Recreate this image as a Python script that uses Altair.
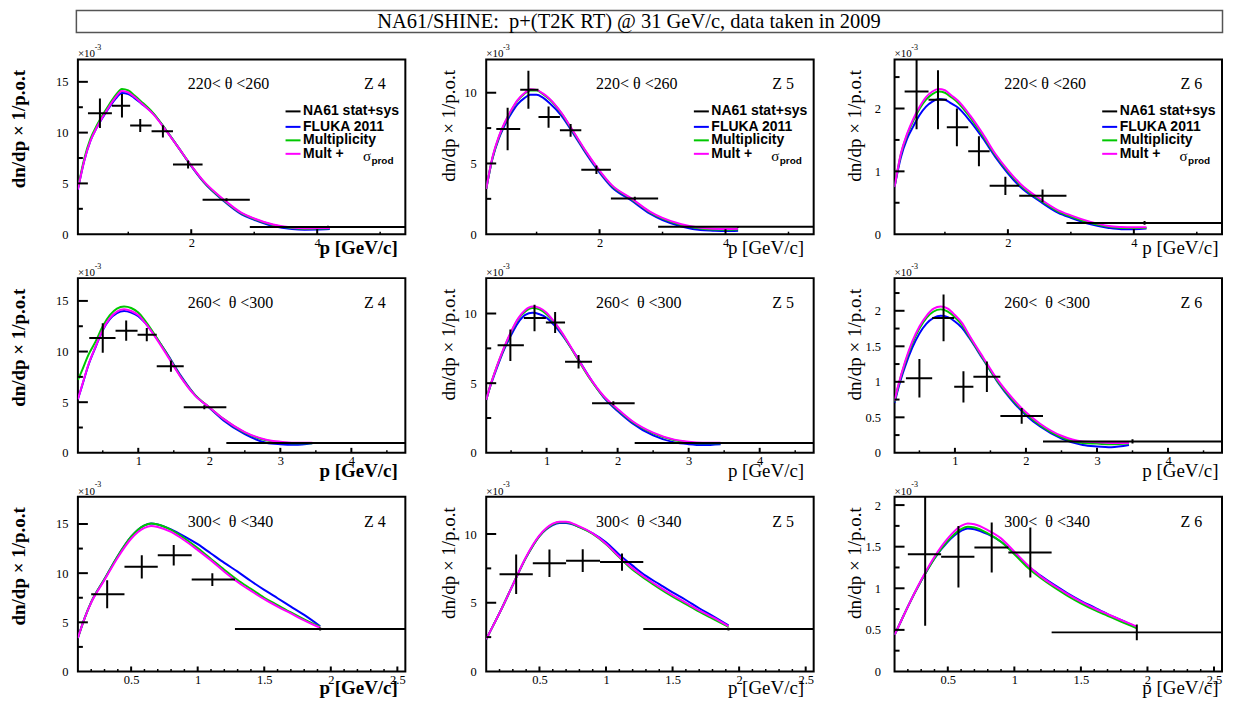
import altair as alt
import pandas as pd

SERIF = "Liberation Serif"
SANS = "Liberation Sans"

TITLE = "NA61/SHINE:\u00a0 p+(T2K RT) @ 31 GeV/c, data taken in 2009"
THETA_LABELS = ["220< θ <260", "260<\u00a0 θ <300", "300<\u00a0 θ <340"]
Z_LABELS = ["Z 4", "Z 5", "Z 6"]
MODEL_COLORS = ["#0000ff", "#00c800", "#ff00ff"]   # FLUKA 2011, Multiplicity, Mult + sigma_prod
LEGEND_LABELS = ["NA61 stat+sys", "FLUKA 2011", "Multiplicity", "Mult +"]
LEGEND_COLORS = ["#000000", "#0000ff", "#00c800", "#ff00ff"]

X_DOMAINS = [[0.2, 5.4], [0.15, 4.76], [0.1, 2.56]]
Y_TOPS = [[17.2, 12.35, 2.78], [17.25, 12.54, 2.46], [17.77, 12.71, 2.1]]
X_MAJOR = [[2, 4], [1, 2, 3, 4], [0.5, 1, 1.5, 2, 2.5]]
X_MINOR = [[1, 3, 5], [0.5, 1.5, 2.5, 3.5, 4.5],
           [0.2, 0.3, 0.4, 0.6, 0.7, 0.8, 0.9, 1.1, 1.2, 1.3, 1.4, 1.6, 1.7, 1.8, 1.9, 2.1, 2.2, 2.3, 2.4]]
Y_LABELS_Z4 = [0, 5, 10, 15]
Y_LABELS_Z5 = [0, 5, 10]
Y_LABELS_Z6_R1 = [0, 1, 2]
Y_LABELS_Z6_R23 = [0, 0.5, 1, 1.5, 2]
Y_MINOR_Z4 = [2.5, 7.5, 12.5]
Y_MINOR_Z5 = [2.5, 7.5]
Y_MINOR_Z6_R1 = [0.5, 1.5, 2.5]
Y_MINOR_Z6_R2 = [0.25, 0.75, 1.25, 1.75, 2.25]
Y_MINOR_Z6_R3 = [0.25, 0.75, 1.25, 1.75]

# ---------------- model curves ----------------
R1_P = [0.2, 0.3, 0.4, 0.5, 0.6, 0.7, 0.8, 0.9, 1.0, 1.1, 1.2, 1.4, 1.6, 1.8, 2.0, 2.2, 2.5, 2.8, 3.0, 3.3, 3.6, 3.8, 4.0, 4.2]
R1Z4_FLUKA = [4.4, 7.2, 9.2, 10.5, 11.55, 12.5, 13.35, 13.9, 13.8, 13.4, 12.9, 11.85, 10.25, 8.5, 6.7, 5.1, 3.35, 1.95, 1.42, 0.8, 0.5, 0.44, 0.45, 0.5]
R1Z4_MULT = [4.5, 7.4, 9.4, 10.7, 11.8, 12.8, 13.7, 14.3, 14.15, 13.65, 13.1, 11.9, 10.25, 8.5, 6.75, 5.15, 3.42, 2.05, 1.5, 0.9, 0.6, 0.54, 0.55, 0.58]
R1Z4_MSIG = [4.4, 7.2, 9.2, 10.5, 11.6, 12.6, 13.5, 14.1, 13.95, 13.5, 12.95, 11.8, 10.2, 8.5, 6.75, 5.2, 3.5, 2.1, 1.55, 0.95, 0.65, 0.58, 0.6, 0.62]
R1Z5_FLUKA = [3.2, 5.35, 6.75, 7.75, 8.55, 9.2, 9.6, 9.85, 9.85, 9.65, 9.3, 8.35, 7.0, 5.6, 4.35, 3.3, 2.4, 1.45, 1.0, 0.55, 0.3, 0.25, 0.22, 0.25]
R1Z5_MULT = [3.2, 5.4, 6.85, 7.9, 8.75, 9.45, 9.9, 10.15, 10.15, 9.9, 9.55, 8.5, 7.1, 5.7, 4.45, 3.4, 2.5, 1.55, 1.1, 0.65, 0.4, 0.33, 0.32, 0.34]
R1Z5_MSIG = [3.2, 5.45, 6.9, 7.95, 8.8, 9.5, 9.95, 10.25, 10.2, 9.95, 9.6, 8.55, 7.15, 5.75, 4.5, 3.45, 2.55, 1.6, 1.15, 0.7, 0.45, 0.38, 0.36, 0.38]
R1Z6_FLUKA = [0.75, 1.22, 1.52, 1.72, 1.9, 2.03, 2.11, 2.15, 2.14, 2.08, 2.02, 1.8, 1.53, 1.23, 0.97, 0.75, 0.53, 0.34, 0.26, 0.16, 0.1, 0.08, 0.08, 0.09]
R1Z6_MULT = [0.75, 1.27, 1.58, 1.81, 2.0, 2.14, 2.23, 2.27, 2.25, 2.18, 2.1, 1.86, 1.57, 1.26, 1.0, 0.78, 0.55, 0.36, 0.28, 0.18, 0.12, 0.1, 0.1, 0.1]
R1Z6_MSIG = [0.75, 1.28, 1.6, 1.84, 2.03, 2.18, 2.27, 2.31, 2.29, 2.21, 2.13, 1.89, 1.6, 1.28, 1.02, 0.8, 0.57, 0.38, 0.3, 0.2, 0.13, 0.115, 0.11, 0.11]

R2_P = [0.15, 0.2, 0.3, 0.4, 0.5, 0.6, 0.7, 0.8, 0.9, 1.0, 1.1, 1.2, 1.4, 1.6, 1.8, 2.0, 2.2, 2.5, 2.8, 3.0, 3.2, 3.45]
R2Z4_FLUKA = [5.3, 6.4, 8.7, 10.45, 12.1, 13.2, 13.8, 14.0, 13.85, 13.5, 12.8, 11.9, 9.85, 7.6, 5.7, 4.45, 3.2, 1.85, 1.0, 0.85, 0.8, 0.95]
R2Z4_MULT = [7.2, 8.0, 9.7, 11.0, 12.5, 13.6, 14.25, 14.45, 14.3, 13.85, 13.0, 12.0, 9.8, 7.5, 5.7, 4.5, 3.35, 2.0, 1.25, 1.05, 0.95, 0.95]
R2Z4_MSIG = [5.3, 6.45, 8.75, 10.5, 12.15, 13.3, 13.95, 14.18, 14.0, 13.6, 12.8, 11.85, 9.7, 7.45, 5.65, 4.5, 3.35, 2.05, 1.3, 1.1, 1.0, 1.0]
R2Z5_FLUKA = [3.8, 4.65, 6.1, 7.4, 8.45, 9.35, 9.9, 10.05, 9.95, 9.7, 9.2, 8.6, 7.1, 5.45, 4.0, 3.0, 2.15, 1.25, 0.75, 0.62, 0.56, 0.62]
R2Z5_MULT = [3.8, 4.7, 6.2, 7.5, 8.65, 9.6, 10.15, 10.4, 10.3, 9.95, 9.4, 8.7, 7.05, 5.4, 4.05, 3.1, 2.25, 1.4, 0.9, 0.75, 0.68, 0.68]
R2Z5_MSIG = [3.8, 4.7, 6.2, 7.55, 8.7, 9.65, 10.25, 10.5, 10.4, 10.05, 9.45, 8.75, 7.1, 5.45, 4.1, 3.15, 2.3, 1.45, 0.95, 0.8, 0.73, 0.72]
R2Z6_FLUKA = [0.7, 0.9, 1.22, 1.48, 1.68, 1.82, 1.9, 1.93, 1.91, 1.85, 1.76, 1.62, 1.31, 1.0, 0.74, 0.53, 0.37, 0.2, 0.11, 0.09, 0.08, 0.11]
R2Z6_MULT = [0.72, 0.93, 1.27, 1.54, 1.75, 1.9, 1.99, 2.02, 1.99, 1.91, 1.8, 1.64, 1.32, 1.01, 0.76, 0.55, 0.39, 0.22, 0.14, 0.13, 0.12, 0.13]
R2Z6_MSIG = [0.73, 0.94, 1.29, 1.57, 1.78, 1.93, 2.03, 2.06, 2.03, 1.94, 1.83, 1.66, 1.34, 1.03, 0.78, 0.57, 0.41, 0.24, 0.16, 0.15, 0.14, 0.14]

R3_P = [0.1, 0.15, 0.2, 0.3, 0.4, 0.5, 0.6, 0.65, 0.7, 0.8, 0.9, 1.0, 1.1, 1.2, 1.3, 1.4, 1.5, 1.6, 1.7, 1.8, 1.92]
R3Z4_FLUKA = [3.4, 5.4, 7.05, 9.4, 11.75, 13.7, 14.85, 15.05, 14.95, 14.45, 13.75, 12.95, 12.0, 11.05, 10.15, 9.2, 8.3, 7.45, 6.6, 5.75, 4.6]
R3Z4_MULT = [3.4, 5.4, 7.05, 9.4, 11.75, 13.7, 14.85, 15.05, 14.95, 14.4, 13.55, 12.55, 11.45, 10.35, 9.3, 8.4, 7.5, 6.75, 6.0, 5.3, 4.55]
R3Z4_MSIG = [3.4, 5.4, 7.0, 9.3, 11.6, 13.5, 14.6, 14.8, 14.7, 14.2, 13.35, 12.35, 11.3, 10.15, 9.1, 8.2, 7.35, 6.6, 5.9, 5.2, 4.45]
R3Z5_FLUKA = [2.35, 3.3, 4.25, 6.3, 8.3, 9.85, 10.65, 10.8, 10.8, 10.5, 10.05, 9.4, 8.5, 7.7, 6.95, 6.35, 5.75, 5.2, 4.6, 4.05, 3.35]
R3Z5_MULT = [2.35, 3.3, 4.25, 6.3, 8.3, 9.85, 10.7, 10.85, 10.85, 10.5, 10.0, 9.25, 8.3, 7.4, 6.7, 6.05, 5.45, 4.9, 4.35, 3.85, 3.25]
R3Z5_MSIG = [2.35, 3.3, 4.25, 6.3, 8.35, 9.9, 10.75, 10.9, 10.9, 10.55, 10.05, 9.3, 8.35, 7.5, 6.8, 6.15, 5.55, 5.0, 4.45, 3.95, 3.3]
R3Z6_FLUKA = [0.44, 0.61, 0.78, 1.09, 1.36, 1.56, 1.69, 1.72, 1.71, 1.65, 1.56, 1.42, 1.27, 1.15, 1.04, 0.94, 0.85, 0.77, 0.69, 0.62, 0.53]
R3Z6_MULT = [0.44, 0.61, 0.78, 1.09, 1.36, 1.57, 1.71, 1.74, 1.73, 1.66, 1.56, 1.41, 1.25, 1.12, 1.01, 0.91, 0.82, 0.74, 0.67, 0.6, 0.52]
R3Z6_MSIG = [0.44, 0.61, 0.78, 1.1, 1.38, 1.6, 1.75, 1.78, 1.77, 1.7, 1.6, 1.44, 1.28, 1.14, 1.03, 0.93, 0.84, 0.76, 0.69, 0.62, 0.54]

# ---------------- NA61 data points ----------------
R1_BIN_LO = [0.36, 0.74, 1.03, 1.37, 1.71, 2.18, 2.93]
R1_BIN_HI = [0.74, 1.03, 1.37, 1.71, 2.18, 2.93, 5.6]
R1Z4_PC = [0.55, 0.90, 1.19, 1.55, 1.95, 2.56, 4.17]
R1Z4_V = [11.9, 12.65, 10.7, 10.13, 6.86, 3.4, 0.72]
R1Z4_E = [1.45, 1.15, 0.65, 0.6, 0.4, 0.15, 0.1]
R1Z5_PC = [0.54, 0.87, 1.19, 1.54, 1.95, 2.56, 4.2]
R1Z5_V = [7.43, 10.21, 8.28, 7.34, 4.56, 2.52, 0.52]
R1Z5_E = [1.5, 1.35, 0.75, 0.45, 0.3, 0.12, 0.06]
R1Z6_PC = [0.55, 0.89, 1.19, 1.54, 1.96, 2.55, 4.17]
R1Z6_V = [2.27, 2.14, 1.70, 1.32, 0.77, 0.61, 0.18]
R1Z6_E = [0.6, 0.47, 0.3, 0.24, 0.145, 0.1, 0.03]

R2_BIN_LO = [0.31, 0.68, 0.99, 1.26, 1.64, 2.24]
R2_BIN_HI = [0.68, 0.99, 1.26, 1.64, 2.24, 5.0]
R2Z4_PC = [0.50, 0.83, 1.12, 1.46, 1.93, 3.49]
R2Z4_V = [11.34, 12.06, 11.67, 8.56, 4.51, 0.98]
R2Z4_E = [1.45, 1.0, 0.65, 0.55, 0.2, 0.08]
R2Z5_PC = [0.49, 0.83, 1.12, 1.45, 1.94, 3.48]
R2Z5_V = [7.72, 9.67, 9.36, 6.54, 3.56, 0.71]
R2Z5_E = [1.13, 0.95, 0.75, 0.48, 0.15, 0.05]
R2Z6_PC = [0.50, 0.84, 1.12, 1.45, 1.94, 3.5]
R2Z6_V = [1.05, 1.90, 0.93, 1.07, 0.52, 0.16]
R2Z6_E = [0.27, 0.33, 0.22, 0.215, 0.11, 0.03]

R3_BIN_LO = [0.2, 0.45, 0.7, 0.955, 1.28]
R3_BIN_HI = [0.45, 0.7, 0.955, 1.28, 3.0]
R3Z4_PC = [0.32, 0.58, 0.82, 1.11, 1.92]
R3Z4_V = [7.86, 10.64, 11.82, 9.35, 4.32]
R3Z4_E = [1.43, 1.18, 1.05, 0.65, 0.15]
R3Z5_PC = [0.325, 0.575, 0.825, 1.12, 1.92]
R3Z5_V = [7.07, 7.87, 8.06, 7.96, 3.09]
R3Z5_E = [1.44, 1.0, 0.83, 0.63, 0.1]
R3Z6_PC = [0.33, 0.58, 0.83, 1.12, 1.92]
R3Z6_V = [1.41, 1.38, 1.49, 1.43, 0.47]
R3Z6_E = [0.86, 0.37, 0.3, 0.3, 0.095]

# ---------------- assemble ----------------
GRIDS = [R1_P, R2_P, R3_P]
CURVES = [
    [(R1Z4_FLUKA, R1Z4_MULT, R1Z4_MSIG), (R1Z5_FLUKA, R1Z5_MULT, R1Z5_MSIG), (R1Z6_FLUKA, R1Z6_MULT, R1Z6_MSIG)],
    [(R2Z4_FLUKA, R2Z4_MULT, R2Z4_MSIG), (R2Z5_FLUKA, R2Z5_MULT, R2Z5_MSIG), (R2Z6_FLUKA, R2Z6_MULT, R2Z6_MSIG)],
    [(R3Z4_FLUKA, R3Z4_MULT, R3Z4_MSIG), (R3Z5_FLUKA, R3Z5_MULT, R3Z5_MSIG), (R3Z6_FLUKA, R3Z6_MULT, R3Z6_MSIG)],
]
BINS = [(R1_BIN_LO, R1_BIN_HI), (R2_BIN_LO, R2_BIN_HI), (R3_BIN_LO, R3_BIN_HI)]
POINTS = [
    [(R1Z4_PC, R1Z4_V, R1Z4_E), (R1Z5_PC, R1Z5_V, R1Z5_E), (R1Z6_PC, R1Z6_V, R1Z6_E)],
    [(R2Z4_PC, R2Z4_V, R2Z4_E), (R2Z5_PC, R2Z5_V, R2Z5_E), (R2Z6_PC, R2Z6_V, R2Z6_E)],
    [(R3Z4_PC, R3Z4_V, R3Z4_E), (R3Z5_PC, R3Z5_V, R3Z5_E), (R3Z6_PC, R3Z6_V, R3Z6_E)],
]
Y_LABELS = [[Y_LABELS_Z4, Y_LABELS_Z5, Y_LABELS_Z6_R1],
            [Y_LABELS_Z4, Y_LABELS_Z5, Y_LABELS_Z6_R23],
            [Y_LABELS_Z4, Y_LABELS_Z5, Y_LABELS_Z6_R23]]
Y_MINOR = [[Y_MINOR_Z4, Y_MINOR_Z5, Y_MINOR_Z6_R1],
           [Y_MINOR_Z4, Y_MINOR_Z5, Y_MINOR_Z6_R2],
           [Y_MINOR_Z4, Y_MINOR_Z5, Y_MINOR_Z6_R3]]

W, H = 328, 175
YTITLE_X = [-59, -37.5, -40]
YLABEL_PAD = [10, 10, 14]
XTITLE_Y = [19, 24, 22]
XTITLE_X = [320, 318, 324]
LEGEND_Y = [52, 67.5, 81, 94.5]
LABEL_EXPR = "'' + datum.value"


def panel(r, c):
    xs = alt.Scale(domain=X_DOMAINS[r], nice=False, zero=False)
    ys = alt.Scale(domain=[0, Y_TOPS[r][c]], nice=False, zero=False)
    weight = "bold" if c == 0 else "normal"
    xaxis = alt.Axis(values=X_MAJOR[r], labelExpr=LABEL_EXPR, ticks=False, tickSize=0, domain=False, grid=False,
                     labelFont=SERIF, labelFontSize=12.5, labelPadding=2, labelFlush=False,
                     labelColor="black", title="p [GeV/c]", titleFont=SERIF, titleFontSize=19,
                     titleFontWeight=weight, titleColor="black", titleX=XTITLE_X[c], titleY=XTITLE_Y[r],
                     titleAlign="right", titleBaseline="alphabetic")
    yaxis = alt.Axis(values=Y_LABELS[r][c], labelExpr=LABEL_EXPR, ticks=False, tickSize=0, domain=False,
                     grid=False, labelFont=SERIF, labelFontSize=12.5, labelPadding=YLABEL_PAD[c],
                     labelColor="black", title="dn/dp × 1/p.o.t", titleFont=SERIF, titleFontSize=19,
                     titleFontWeight=weight, titleColor="black", titleAngle=270, titleAlign="right",
                     titleBaseline="middle", titleX=YTITLE_X[c], titleY=10)

    def X(field):
        return alt.X(field, type="quantitative", scale=xs, axis=xaxis)

    def Y(field):
        return alt.Y(field, type="quantitative", scale=ys, axis=yaxis)

    layers = []
    for color, vals in zip(MODEL_COLORS, CURVES[r][c]):
        df = pd.DataFrame({"p": GRIDS[r], "v": vals})
        layers.append(
            alt.Chart(df).mark_line(color=color, strokeWidth=2, interpolate="monotone", clip=True).encode(
                x=X("p"), y=Y("v")))
    pc, v, e = POINTS[r][c]
    lo, hi = BINS[r]
    pts = pd.DataFrame({"pc": pc, "lo": lo, "hi": hi, "v": v,
                        "ylo": [a - b for a, b in zip(v, e)], "yhi": [a + b for a, b in zip(v, e)]})
    layers.append(alt.Chart(pts).mark_rule(color="black", strokeWidth=2, clip=True).encode(
        x=X("lo"), x2="hi:Q", y=Y("v")))
    layers.append(alt.Chart(pts).mark_rule(color="black", strokeWidth=2, clip=True).encode(
        x=X("pc"), y=Y("ylo"), y2="yhi:Q"))
    # inward ticks
    ymaj = pd.DataFrame({"t": [t for t in Y_LABELS[r][c] if t > 0]})
    ymin = pd.DataFrame({"t": Y_MINOR[r][c]})
    xmaj = pd.DataFrame({"t": X_MAJOR[r]})
    xmin = pd.DataFrame({"t": X_MINOR[r]})
    layers.append(alt.Chart(ymaj).mark_rule(color="black", strokeWidth=2).encode(
        y=Y("t"), x=alt.value(0), x2=alt.value(10)))
    layers.append(alt.Chart(ymin).mark_rule(color="black", strokeWidth=2).encode(
        y=Y("t"), x=alt.value(0), x2=alt.value(5)))
    layers.append(alt.Chart(xmaj).mark_rule(color="black", strokeWidth=2).encode(
        x=X("t"), y=alt.value(H), y2=alt.value(H - 5)))
    layers.append(alt.Chart(xmin).mark_rule(color="black", strokeWidth=1.5).encode(
        x=X("t"), y=alt.value(H), y2=alt.value(H - 2.5)))
    # texts
    ty = 24.3 if r == 0 else 25.3
    layers.append(alt.Chart(pd.DataFrame({"label": [THETA_LABELS[r]]})).mark_text(
        font=SERIF, fontSize=16, align="left", baseline="middle", color="black").encode(
        text="label:N", x=alt.value(110), y=alt.value(ty)))
    layers.append(alt.Chart(pd.DataFrame({"label": [Z_LABELS[c]]})).mark_text(
        font=SERIF, fontSize=16, align="left", baseline="middle", color="black").encode(
        text="label:N", x=alt.value(286.5), y=alt.value(ty)))
    layers.append(alt.Chart(pd.DataFrame({"label": ["×10"]})).mark_text(
        font=SERIF, fontSize=11, align="left", baseline="alphabetic", color="black").encode(
        text="label:N", x=alt.value(0), y=alt.value(-2)))
    layers.append(alt.Chart(pd.DataFrame({"label": ["-3"]})).mark_text(
        font=SERIF, fontSize=8, align="left", baseline="alphabetic", color="black").encode(
        text="label:N", x=alt.value(16.8), y=alt.value(-9.5)))
    if r == 0:
        for k, (lab, col) in enumerate(zip(LEGEND_LABELS, LEGEND_COLORS)):
            d = pd.DataFrame({"label": [lab]})
            layers.append(alt.Chart(d).mark_rule(color=col, strokeWidth=2).encode(
                x=alt.value(208), x2=alt.value(223), y=alt.value(LEGEND_Y[k])))
            layers.append(alt.Chart(d).mark_text(font=SANS, fontSize=14, fontWeight="bold", align="left",
                                                 baseline="middle", color="black").encode(
                text="label:N", x=alt.value(225.5), y=alt.value(LEGEND_Y[k])))
        layers.append(alt.Chart(pd.DataFrame({"label": ["σ"]})).mark_text(
            font=SERIF, fontSize=15, align="left", baseline="middle", color="black").encode(
            text="label:N", x=alt.value(285.5), y=alt.value(LEGEND_Y[3] + 2.5)))
        layers.append(alt.Chart(pd.DataFrame({"label": ["prod"]})).mark_text(
            font=SANS, fontSize=10, fontWeight="bold", align="left", baseline="middle", color="black").encode(
            text="label:N", x=alt.value(294), y=alt.value(LEGEND_Y[3] + 7)))
    if r == 0 and c == 0:
        td = pd.DataFrame({"label": [TITLE]})
        layers.append(alt.Chart(td).mark_rect(fill="white", fillOpacity=0, stroke="#555555", strokeWidth=1.5).encode(
            x=alt.value(-1.5), x2=alt.value(1146.5), y=alt.value(-49), y2=alt.value(-27)))
        layers.append(alt.Chart(td).mark_text(font=SERIF, fontSize=20.5, align="center", baseline="middle",
                                              color="black").encode(
            text="label:N", x=alt.value(552), y=alt.value(-38)))
    return alt.layer(*layers).properties(width=W, height=H)


panels = [panel(r, c) for r in range(3) for c in range(3)]

chart = alt.concat(*panels, columns=3, spacing={"row": 44, "column": 81}, bounds="flush").properties(
    padding={"left": 1, "top": 0, "right": 0, "bottom": 0},
    background="white",
).configure_view(stroke="black", strokeWidth=2)

chart.save("out.html", embed_options={"renderer": "svg", "actions": False})
